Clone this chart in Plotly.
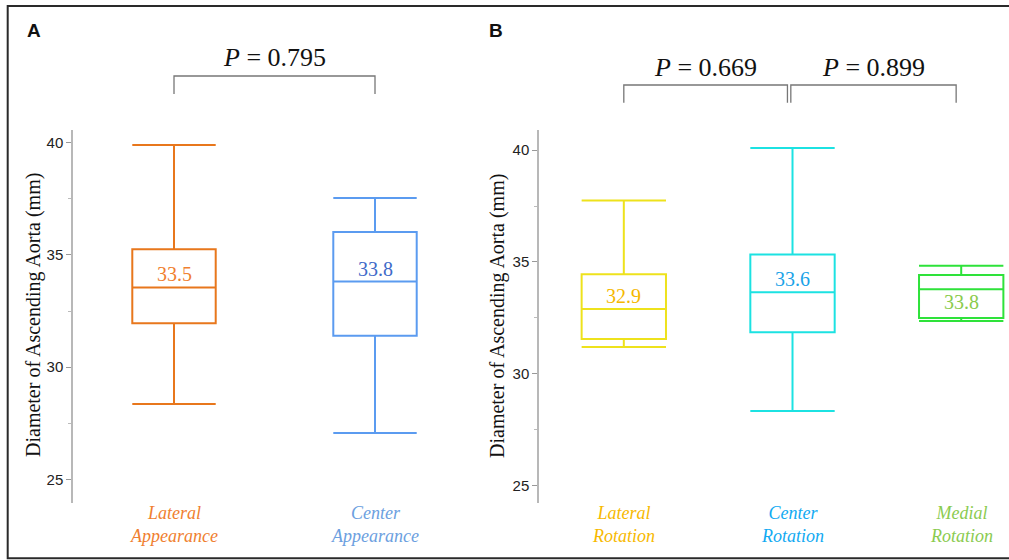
import plotly.graph_objects as go

W, H = 1009, 560

# ---------------- data ----------------
a_labels = ["Lateral Appearance", "Center Appearance"]
a_upper = [39.90, 37.54]
a_q3 = [35.25, 36.02]
a_median = [33.55, 33.81]
a_q1 = [31.95, 31.40]
a_lower = [28.36, 27.06]
a_median_text = ["33.5", "33.8"]

b_labels = ["Lateral Rotation", "Center Rotation", "Medial Rotation"]
b_upper = [37.74, 40.09, 34.83]
b_q3 = [34.45, 35.33, 34.42]
b_median = [32.90, 33.65, 33.78]
b_q1 = [31.56, 31.86, 32.50]
b_lower = [31.21, 28.35, 32.37]
b_median_text = ["32.9", "33.6", "33.8"]

p_a = ["0.795"]
p_b = ["0.669", "0.899"]

y_ticks = [25, 30, 35, 40]

# ---------------- styles ----------------
a_box_colors = ["#E8771C", "#5B9BF0"]
a_med_colors = ["#F07F30", "#3F6BC9"]
a_lab_colors = ["#F07F30", "#6CA0E0"]
b_box_colors = ["#EEE21C", "#1CE2E2", "#2EE23A"]
b_med_colors = ["#F5B800", "#1AA3E8", "#8ACB4C"]
b_lab_colors = ["#F7B900", "#12AAF2", "#8BCB50"]

SERIF = "Liberation Serif, Times New Roman, serif"
SANS = "Liberation Sans, Arial, sans-serif"


def px(x):
    return x / W


def py(y):
    return 1 - y / H


fig = go.Figure()


def add_panel(xa, ya, labels, upper, q3, med, q1, lower, med_text,
              box_colors, med_colors, lab_colors, width, below_idx=()):
    for i in range(len(labels)):
        fig.add_trace(go.Box(
            x=[i], q1=[q1[i]], median=[med[i]], q3=[q3[i]],
            lowerfence=[lower[i]], upperfence=[upper[i]],
            width=width, whiskerwidth=1,
            line=dict(color=box_colors[i], width=2),
            fillcolor="rgba(255,255,255,0)", boxpoints=False,
            xaxis=xa, yaxis=ya, showlegend=False, hoverinfo="skip"))
        below = i in below_idx
        fig.add_annotation(
            x=i, y=med[i], xref=xa, yref=ya, text=med_text[i],
            showarrow=False, xanchor="center",
            yanchor="top" if below else "bottom",
            font=dict(family=SERIF, size=20, color=med_colors[i]))
        fig.add_annotation(
            x=i, y=py(524), xref=xa, yref="paper",
            text="<i>" + labels[i].replace(" ", "<br>") + "</i>",
            showarrow=False, xanchor="center", yanchor="middle",
            font=dict(family=SERIF, size=18, color=lab_colors[i]))


add_panel("x", "y", a_labels, a_upper, a_q3, a_median, a_q1, a_lower,
          a_median_text, a_box_colors, a_med_colors, a_lab_colors, 0.415)
add_panel("x2", "y2", b_labels, b_upper, b_q3, b_median, b_q1, b_lower,
          b_median_text, b_box_colors, b_med_colors, b_lab_colors, 0.5,
          below_idx=(2,))

# axes
yaxis_common = dict(
    showgrid=False, zeroline=False, showline=True, linecolor="#b8b8b8",
    linewidth=1.5, ticks="outside", ticklen=5, tickwidth=1, tickcolor="#999",
    tickvals=y_ticks, tickfont=dict(family=SANS, size=15, color="#222"),
    minor=dict(ticks="outside", ticklen=3, dtick=2.5, tickcolor="#bbb",
               showgrid=False),
    domain=[py(503), py(130)])
xaxis_common = dict(showgrid=False, zeroline=False, showline=False,
                    showticklabels=False, ticks="")

fig.update_layout(
    width=W, height=H, margin=dict(l=0, r=0, t=0, b=0),
    paper_bgcolor="white", plot_bgcolor="white", boxmode="overlay",
    xaxis=dict(**xaxis_common, domain=[px(73), px(480)],
               range=[-0.5025, 1.5224]),
    yaxis=dict(**yaxis_common, anchor="x", range=[23.944, 40.566]),
    xaxis2=dict(**xaxis_common, domain=[px(539), 1.0], anchor="y2",
                range=[-0.5027, 2.2833]),
    yaxis2=dict(**yaxis_common, anchor="x2", range=[24.24, 40.893]),
)

# axis titles
for xc, yc in [(33, 315), (497, 316)]:
    fig.add_annotation(x=px(xc), y=py(yc), xref="paper", yref="paper",
                       text="Diameter of Ascending Aorta (mm)", textangle=-90,
                       showarrow=False, xanchor="center", yanchor="middle",
                       font=dict(family=SERIF, size=20, color="#111"))

# panel letters
for t, xc in [("A", 34), ("B", 495.5)]:
    fig.add_annotation(x=px(xc), y=py(30.5), xref="paper", yref="paper",
                       text="<b>%s</b>" % t, showarrow=False,
                       xanchor="center", yanchor="middle",
                       font=dict(family=SANS, size=19, color="#111"))

# significance brackets
def bracket(xa, x0, x1, ytop, ybot, ptxt, ytext):
    fig.add_shape(type="path", xref=xa, yref="paper",
                  path="M %f,%f L %f,%f L %f,%f L %f,%f" % (
                      x0, py(ybot), x0, py(ytop), x1, py(ytop), x1, py(ybot)),
                  line=dict(color="#777", width=1.3))
    fig.add_annotation(x=(x0 + x1) / 2, y=py(ytext), xref=xa, yref="paper",
                       text="<i>P</i> = " + ptxt, showarrow=False,
                       xanchor="center", yanchor="middle",
                       font=dict(family=SERIF, size=26, color="#111"))


bracket("x", 0, 1, 76, 94, p_a[0], 57.6)
bracket("x2", 0, 0.97, 85, 102.7, p_b[0], 67.6)
bracket("x2", 0.99, 1.97, 85, 102.7, p_b[1], 67.6)

# outer frame
fig.add_shape(type="rect", xref="paper", yref="paper",
              x0=px(7.7), x1=1.05, y0=py(558.3), y1=py(6),
              line=dict(color="#2a2a2a", width=2))

fig.write_html("out.html")
